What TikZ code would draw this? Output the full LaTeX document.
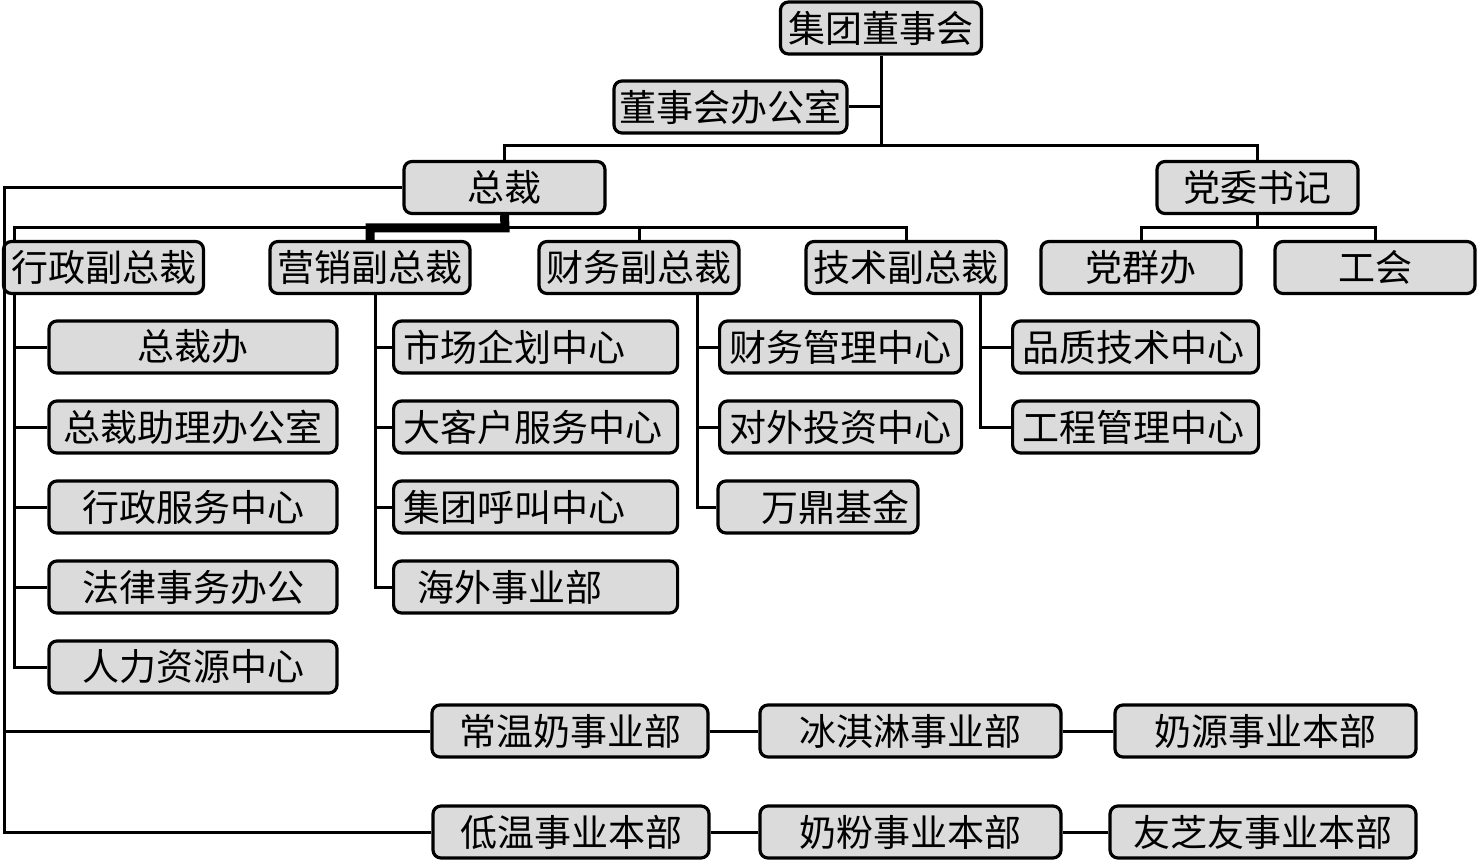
\documentclass[tikz,border=0pt]{standalone}
\usepackage{fontspec}
\setmainfont{Noto Sans CJK SC}
\begin{document}
\begin{tikzpicture}[x=0.5pt, y=-0.5pt,
    unit/.style={draw, line width=1.6pt, rounded corners=4pt, fill=black!14,
        minimum width=#1, minimum height=26pt, inner sep=0pt,
        font=\fontsize{18.5}{20}\selectfont},
    lunit/.style={draw, line width=1.6pt, rounded corners=4pt, fill=black!14,
        text width=#1, align=left, minimum height=26pt, inner xsep=5pt, inner ysep=0pt,
        anchor=west, font=\fontsize{18.5}{20}\selectfont},
    link/.style={line width=1.5pt}]
    \useasboundingbox (0,0) rectangle (1477,861);

    % 董事会
    \node[unit=100.5pt] (board) at (881,28) {集团董事会};
    \node[unit=116.5pt] (office) at (730.5,107) {董事会办公室};
    \coordinate (topbus) at (881,146);
    \draw[link] (board.south) -- (topbus);
    \draw[link] (office.east) -- (office.east -| board.south);

    % 总裁与党委
    \node[unit=100.5pt] (ceo) at (504.5,187.5) {总裁};
    \node[unit=100.5pt] (party) at (1257.5,187.5) {党委书记};
    \draw[link] (ceo.north) |- (topbus) -| (party.north);

    % 副总裁
    \node[unit=100pt] (vpAdmin) at (103.5,267.5) {行政副总裁};
    \node[unit=100pt] (vpMkt) at (370,267.5) {营销副总裁};
    \node[unit=100pt] (vpFin) at (639,267.5) {财务副总裁};
    \node[unit=100pt] (vpTech) at (906,267.5) {技术副总裁};
    \coordinate (ceobus) at (505,228);
    \draw[link] ([xshift=6.5pt]vpAdmin.north west) |- (ceobus) -| (vpTech.north);
    \draw[link] (vpFin.north) -- (vpFin.north |- ceobus);
    \draw[line width=4.5pt] (ceo.south) -- (ceobus) -| (vpMkt.north);

    % 党群
    \node[unit=100pt] (partyOffice) at (1141,267.5) {党群办};
    \node[unit=100pt] (union) at (1375,267.5) {工会};
    \coordinate (partybus) at (1257.5,228);
    \draw[link] (party.south) -- (partybus);
    \draw[link] (partyOffice.north) |- (partybus) -| (union.north);

    % 行政副总裁下属
    \node[unit=144pt] (ceoOffice) at (193,347) {总裁办};
    \node[unit=144pt] (assistant) at (193,427) {总裁助理办公室};
    \node[unit=144pt] (service) at (193,507) {行政服务中心};
    \node[unit=144pt] (legal) at (193,587) {法律事务办公};
    \node[unit=144pt] (hr) at (193,667) {人力资源中心};
    \coordinate (adminrail) at ([xshift=6.5pt]vpAdmin.south west);
    \draw[link] (adminrail) |- (hr.west);
    \foreach \n in {ceoOffice,assistant,service,legal} {
        \draw[link] (\n.west) -- (\n.west -| adminrail);
    }

    % 营销副总裁下属
    \node[lunit=132pt] (market) at (392,347) {市场企划中心};
    \node[lunit=132pt] (client) at (392,427) {大客户服务中心};
    \node[lunit=132pt] (call) at (392,507) {集团呼叫中心};
    \node[lunit=132pt] (overseas) at (392,587) {\hspace{7pt}海外事业部};
    \coordinate (mktrail) at ([xshift=2.5pt]vpMkt.south);
    \draw[link] (mktrail) |- (overseas.west);
    \foreach \n in {market,client,call} {
        \draw[link] (\n.west) -- (\n.west -| mktrail);
    }

    % 财务副总裁下属
    \node[lunit=111pt] (finance) at (718,347) {财务管理中心};
    \node[lunit=111pt] (invest) at (718,427) {对外投资中心};
    \node[unit=100pt] (fund) at (818,507) {\hspace{17pt}万鼎基金};
    \coordinate (finrail) at ([xshift=29pt]vpFin.south);
    \draw[link] (finrail) |- (fund.west);
    \foreach \n in {finance,invest} {
        \draw[link] (\n.west) -- (\n.west -| finrail);
    }

    % 技术副总裁下属
    \node[lunit=113pt] (quality) at (1011,347) {品质技术中心};
    \node[lunit=113pt] (project) at (1011,427) {工程管理中心};
    \coordinate (techrail) at ([xshift=37pt]vpTech.south);
    \draw[link] (techrail) |- (project.west);
    \draw[link] (quality.west) -- (quality.west -| techrail);

    % 事业部
    \node[unit=138pt] (dairy) at (570,731) {常温奶事业部};
    \node[unit=150.5pt] (icecream) at (910.5,731) {冰淇淋事业部};
    \node[unit=150.5pt] (source) at (1265.5,731) {奶源事业本部};
    \node[unit=138pt] (lowtemp) at (571,832) {低温事业本部};
    \node[unit=150.5pt] (powder) at (910.5,832) {奶粉事业本部};
    \node[unit=153pt] (yzy) at (1263,832) {友芝友事业本部};
    \draw[link] (dairy.east) -- (icecream.west);
    \draw[link] (icecream.east) -- (source.west);
    \draw[link] (lowtemp.east) -- (powder.west);
    \draw[link] (powder.east) -- (yzy.west);

    % 总裁直管
    \coordinate (rail) at (4,187.5);
    \draw[link] (ceo.west) -- (rail) |- (lowtemp.west);
    \draw[link] (rail |- dairy.west) -- (dairy.west);
\end{tikzpicture}
\end{document}
